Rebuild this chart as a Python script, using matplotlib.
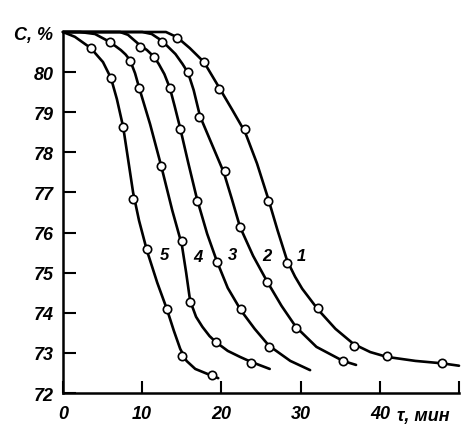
import matplotlib
matplotlib.use("Agg")
import matplotlib.pyplot as plt
import matplotlib.transforms as mtransforms

plt.rcParams['font.family'] = ['Liberation Sans', 'DejaVu Sans']

# measured points (open circles), tau in min, C in %
x1 = [14.4, 17.8, 19.7, 23.0, 25.9, 28.3, 32.2, 36.7, 40.9, 47.85]
y1 = [80.85, 80.25, 79.58, 78.58, 76.79, 75.24, 74.12, 73.17, 72.92, 72.75]
x2 = [12.5, 15.8, 17.2, 20.45, 22.35, 25.8, 29.4, 35.35]
y2 = [80.75, 80.0, 78.88, 77.54, 76.14, 74.77, 73.62, 72.8]
x3 = [9.72, 11.5, 13.5, 14.8, 16.9, 19.4, 22.5, 26.0]
y3 = [80.63, 80.38, 79.6, 78.58, 76.79, 75.27, 74.09, 73.15]
x4 = [5.9, 8.5, 9.6, 12.4, 15.0, 16.0, 19.3, 23.7]
y4 = [80.75, 80.28, 79.6, 77.66, 75.79, 74.27, 73.27, 72.75]
x5 = [3.5, 6.1, 7.6, 8.85, 10.6, 13.1, 15.0, 18.8]
y5 = [80.6, 79.85, 78.63, 76.84, 75.59, 74.1, 72.92, 72.45]

# curves
cx1 = [0, 13.0, 14.4, 16.0, 17.8, 19.7, 21.4, 23.0, 24.5, 25.9, 27.1, 28.3, 29.3,
       30.2, 32.2, 34.4, 36.7, 38.8, 40.9, 44.5, 47.85, 50.0]
cy1 = [81.0, 81.0, 80.87, 80.6, 80.25, 79.62, 79.05, 78.5, 77.72, 76.85, 76.05, 75.3, 74.9,
       74.6, 74.08, 73.6, 73.22, 73.02, 72.9, 72.8, 72.74, 72.68]
cx2 = [0, 10.0, 11.2, 12.5, 14.2, 15.1, 15.8, 16.5, 17.3, 18.8, 20.3, 21.3, 22.35,
       24.0, 25.8, 27.6, 29.4, 32.0, 35.35, 37.0]
cy2 = [81.0, 81.0, 80.95, 80.78, 80.45, 80.2, 79.98, 79.55, 78.9, 78.2, 77.5, 76.85, 76.14,
       75.42, 74.77, 74.17, 73.65, 73.15, 72.8, 72.7]
cx3 = [0, 7.2, 8.2, 9.72, 10.6, 11.5, 12.1, 12.8, 13.5, 14.1, 14.8, 15.8, 16.9,
       18.2, 19.4, 20.8, 22.5, 24.2, 26.0, 28.7, 31.2]
cy3 = [81.0, 81.0, 80.93, 80.67, 80.55, 80.38, 80.2, 79.95, 79.6, 79.15, 78.6, 77.75, 76.85,
       75.97, 75.3, 74.62, 74.05, 73.6, 73.18, 72.8, 72.57]
cx4 = [0, 2.15, 4.04, 5.93, 7.3, 7.9, 8.46, 9.1, 9.6, 11.0, 12.4, 13.8, 15.0,
       15.55, 16.05, 16.8, 17.6, 18.5, 19.3, 20.8, 22.35, 23.7, 26.1]
cy4 = [81.0, 81.0, 80.95, 80.75, 80.55, 80.44, 80.3, 79.97, 79.62, 78.7, 77.66, 76.55, 75.7,
       75.0, 74.3, 73.9, 73.65, 73.42, 73.27, 73.05, 72.9, 72.78, 72.6]
cx5 = [0, 1.5, 3.5, 5.05, 6.06, 6.8, 7.6, 8.2, 8.85, 9.6, 10.6, 11.9, 13.1,
       14.0, 14.8, 15.6, 16.7, 18.8, 19.6]
cy5 = [81.0, 80.88, 80.6, 80.25, 79.85, 79.33, 78.63, 77.85, 77.0, 76.3, 75.55, 74.75, 74.1,
       73.55, 73.1, 72.8, 72.6, 72.43, 72.37]

curve_names = ['1', '2', '3', '4', '5']
name_x = [30.05, 25.76, 21.46, 17.05, 12.75]
name_y = [75.42, 75.42, 75.45, 75.4, 75.45]

xticks = [0, 10, 20, 30, 40, 50]
xtick_labels = ['0', '10', '20', '30', '40', '']
yticks = [72, 73, 74, 75, 76, 77, 78, 79, 80, 81]
ytick_labels = ['72', '73', '74', '75', '76', '77', '78', '79', '80', 'C, %']

fig = plt.figure(figsize=(4.75, 4.35), dpi=100)
ax = fig.add_axes([63 / 475, 41 / 435, 396 / 475, 361 / 435])

curves = [(cx1, cy1), (cx2, cy2), (cx3, cy3), (cx4, cy4), (cx5, cy5)]
points = [(x1, y1), (x2, y2), (x3, y3), (x4, y4), (x5, y5)]
for (cx, cy), (px, py) in zip(curves, points):
    ax.plot(cx, cy, color='black', lw=1.9, solid_joinstyle='round',
            solid_capstyle='round', clip_on=False, zorder=2)
    ax.plot(px, py, 'o', ms=6, mfc='white', mec='black', mew=1.2,
            clip_on=False, zorder=3)

for name, tx, ty in zip(curve_names, name_x, name_y):
    ax.text(tx, ty, name, fontsize=12, style='italic', fontweight='bold',
            ha='center', va='center', zorder=4,
            bbox=dict(facecolor='white', edgecolor='none', pad=0.5))

ax.set_xlim(0, 50)
ax.set_ylim(72, 81)
ax.set_xticks(xticks)
ax.set_xticklabels(xtick_labels)
ax.set_yticks(yticks)
ax.set_yticklabels(ytick_labels)
ax.tick_params(direction='in', length=9, width=1.5, labelsize=13)
ax.tick_params(axis='y', pad=7)
ax.tick_params(axis='x', pad=9)
for lab in ax.get_xticklabels() + ax.get_yticklabels():
    lab.set_fontstyle('italic')
    lab.set_fontweight('bold')

for side in ['top', 'right']:
    ax.spines[side].set_visible(False)
for side in ['left', 'bottom']:
    ax.spines[side].set_linewidth(1.8)

trans = mtransforms.blended_transform_factory(ax.transData, ax.transAxes)
ax.text(42.2, -0.062, 'τ, мин', transform=trans, fontsize=13, style='italic',
        fontweight='bold', ha='left', va='center')

fig.savefig('out.png', dpi=100)
